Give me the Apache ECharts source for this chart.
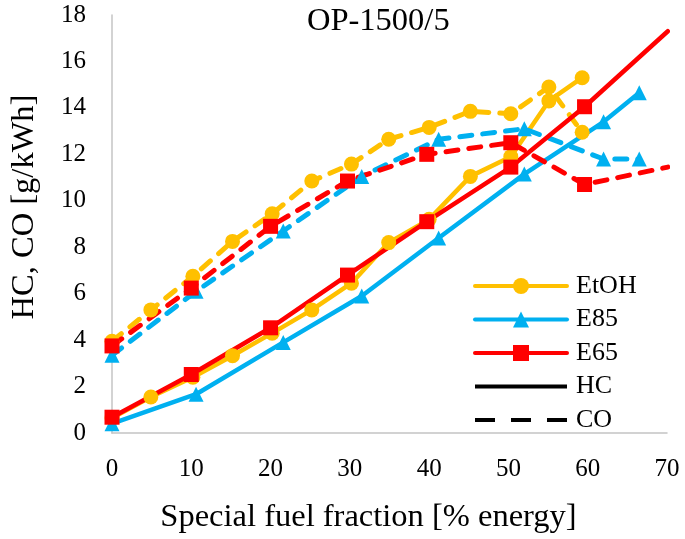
<!DOCTYPE html>
<html>
<head>
<meta charset="utf-8">
<script src="https://cdn.jsdelivr.net/npm/echarts@6/dist/echarts.min.js"></script>
<style>
  html, body { margin: 0; padding: 0; background: #fff; }
  #chart { width: 685px; height: 539px; }
</style>
</head>
<body>
<div id="chart"></div>
<script>
// EtOH
var etohX  = [0, 4.9, 10.2, 15.2, 20.2, 25.2, 30.2, 34.9, 40, 45.2, 50.3, 55.1, 59.3];
var etohHC = [0.65, 1.55, 2.4, 3.33, 4.3, 5.3, 6.45, 8.2, 9.2, 11.05, 11.9, 14.3, 15.3];
var etohCO = [3.95, 5.3, 6.75, 8.25, 9.44, 10.85, 11.58, 12.65, 13.16, 13.85, 13.75, 14.9, 12.95];
// E85
var e85X  = [0, 10.6, 21.6, 31.5, 41.2, 52, 62, 66.5];
var e85HC = [0.4, 1.67, 3.9, 5.9, 8.4, 11.15, 13.4, 14.65];
var e85CO = [3.35, 6.1, 8.7, 11.05, 12.65, 13.1, 11.8, 11.8];
// E65 (ostatni punkt bez znacznika)
var e65X  = [0, 10, 20, 29.7, 39.7, 50.3, 59.6, 70.1];
var e65HC = [0.68, 2.52, 4.53, 6.8, 9.1, 11.45, 14.05, 17.3];
var e65CO = [3.75, 6.24, 8.9, 10.85, 12.0, 12.5, 10.7, 11.45];

var legendNames = ['EtOH', 'E85', 'E65', 'HC', 'CO'];

var font = "'Liberation Serif', 'Times New Roman', serif";
var dash = [12, 11];

function pairs(xs, ys, lastNoMarker) {
    var out = [];
    for (var i = 0; i < xs.length; i++) {
        if (lastNoMarker && i == xs.length - 1) {
            out.push({ value: [xs[i], ys[i]], symbol: 'none' });
        } else {
            out.push([xs[i], ys[i]]);
        }
    }
    return out;
}

function fuelSeries(name, color, symbol, xs, ys, dashed, lastNoMarker) {
    return {
        name: name,
        type: 'line',
        data: pairs(xs, ys, lastNoMarker),
        symbol: symbol,
        symbolSize: 15,
        showAllSymbol: true,
        itemStyle: { color: color },
        lineStyle: {
            color: color,
            width: dashed ? 5 : 4.5,
            type: dashed ? dash : 'solid',
            cap: 'round'
        }
    };
}

var legendData = [];
for (var i = 0; i < legendNames.length; i++) {
    var item = { name: legendNames[i] };
    if (legendNames[i] == 'HC' || legendNames[i] == 'CO') {
        item.itemStyle = { opacity: 0 };
    }
    if (legendNames[i] == 'CO') {
        item.lineStyle = { type: [20, 16] };
    }
    legendData.push(item);
}

var myChart = echarts.init(document.getElementById('chart'));
var option = {
    animation: false,
    backgroundColor: '#fff',
    title: {
        text: 'OP-1500/5',
        left: 307,
        top: 5,
        padding: 0,
        textStyle: { fontFamily: font, fontSize: 32.5, fontWeight: 'normal', color: '#000' }
    },
    legend: {
        data: legendData,
        orient: 'vertical',
        left: 468,
        top: 268,
        itemWidth: 92,
        itemHeight: 20,
        itemGap: 7.5,
        lineStyle: { width: 4 },
        textStyle: { fontFamily: font, fontSize: 26, color: '#000', lineHeight: 26, padding: [0, 0, 0, 4] }
    },
    grid: { left: 106, right: 18, top: 15, bottom: 103 },
    xAxis: {
        type: 'value',
        min: 0,
        max: 70,
        interval: 10,
        name: 'Special fuel fraction [% energy]',
        nameLocation: 'middle',
        nameGap: 68,
        nameTextStyle: { fontFamily: font, fontSize: 32.5, color: '#000', padding: [0, 42, 0, 0] },
        axisLine: { show: true, lineStyle: { color: '#c4c4c4', width: 1.5 } },
        axisTick: { show: false },
        splitLine: { show: false },
        axisLabel: { fontFamily: font, fontSize: 25, color: '#000', margin: 24 }
    },
    yAxis: {
        type: 'value',
        min: 0,
        max: 18,
        interval: 2,
        name: 'HC, CO [g/kWh]',
        nameLocation: 'middle',
        nameRotate: 90,
        nameGap: 71,
        nameTextStyle: { fontFamily: font, fontSize: 32.5, color: '#000', padding: [0, 0, 0, 34] },
        axisLine: { show: true, lineStyle: { color: '#c4c4c4', width: 1.5 } },
        axisTick: { show: false },
        splitLine: { show: false },
        axisLabel: { fontFamily: font, fontSize: 25, color: '#000', margin: 26 }
    },
    series: [
        fuelSeries('EtOH', '#FFC000', 'circle', etohX, etohHC, false, false),
        fuelSeries('EtOH', '#FFC000', 'circle', etohX, etohCO, true, false),
        fuelSeries('E85', '#00B0F0', 'triangle', e85X, e85HC, false, false),
        fuelSeries('E85', '#00B0F0', 'triangle', e85X, e85CO, true, false),
        fuelSeries('E65', '#FF0000', 'rect', e65X, e65HC, false, true),
        fuelSeries('E65', '#FF0000', 'rect', e65X, e65CO, true, true),
        // tylko do legendy
        { name: 'HC', type: 'line', data: [], symbol: 'none', itemStyle: { color: '#000' },
          lineStyle: { color: '#000', width: 4, type: 'solid' } },
        { name: 'CO', type: 'line', data: [], symbol: 'none', itemStyle: { color: '#000' },
          lineStyle: { color: '#000', width: 4, type: [20, 16] } }
    ]
};
myChart.setOption(option);
</script>
</body>
</html>
